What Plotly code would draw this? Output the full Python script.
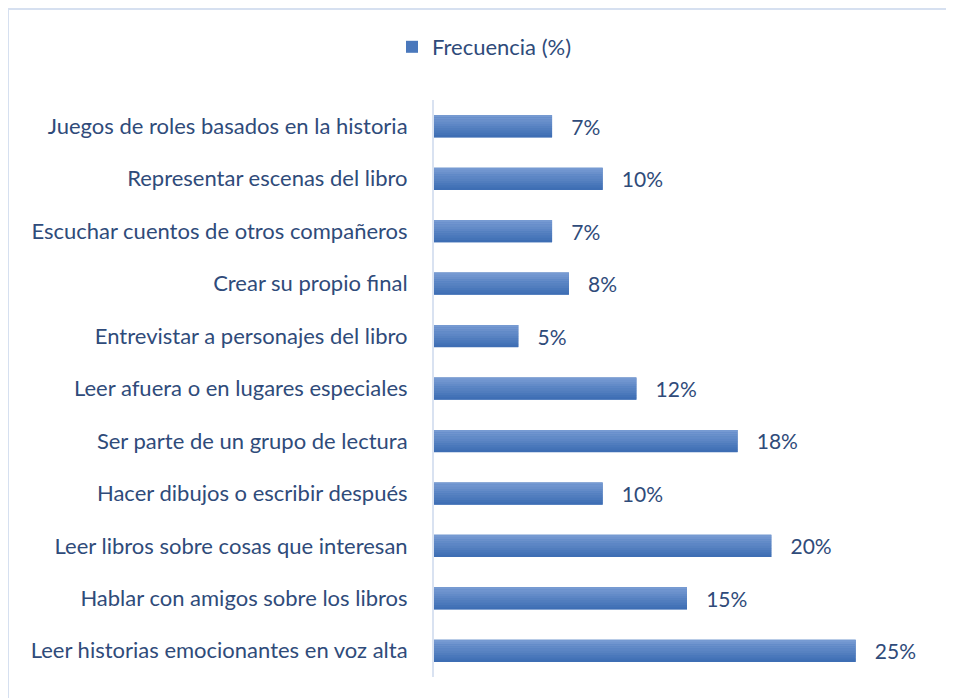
import plotly.graph_objects as go

categories = [
    "Juegos de roles basados en la historia",
    "Representar escenas del libro",
    "Escuchar cuentos de otros compañeros",
    "Crear su propio final",
    "Entrevistar a personajes del libro",
    "Leer afuera o en lugares especiales",
    "Ser parte de un grupo de lectura",
    "Hacer dibujos o escribir después",
    "Leer libros sobre cosas que interesan",
    "Hablar con amigos sobre los libros",
    "Leer historias emocionantes en voz alta",
]
values = [7, 10, 7, 8, 5, 12, 18, 10, 20, 15, 25]
series_name = "Frecuencia (%)"
labels = [f"\u00a0\u00a0\u00a0{v}%" for v in values]

FONT = "Lato"
TXT = "#2F4B7A"
BAR_W = 0.42
W, H = 938, 690

fig = go.Figure()
fig.add_trace(go.Bar(
    y=categories, x=values, orientation="h", name=series_name,
    marker=dict(color="#4A78BC", line=dict(width=0)),
    width=BAR_W, text=labels, textposition="outside", constraintext="none",
    textfont=dict(family=FONT, size=21, color=TXT),
    cliponaxis=False, showlegend=True,
))

n = 10
top = (118, 154, 210)
bot = (62, 110, 180)
for i in range(n):
    t = i / (n - 1)
    c = tuple(round(top[k] + (bot[k] - top[k]) * t) for k in range(3))
    fig.add_trace(go.Bar(
        y=categories, x=values, orientation="h",
        marker=dict(color=f"rgb{c}", line=dict(width=0)),
        width=BAR_W / n + 0.004, offset=-BAR_W / 2 + i * BAR_W / n,
        showlegend=False, hoverinfo="skip",
    ))

bx0 = -426 / 506
by1 = 1 + 91 / 577
fig.update_layout(
    width=W, height=H,
    barmode="overlay",
    paper_bgcolor="white", plot_bgcolor="white",
    margin=dict(l=426, r=6, t=92, b=21),
    font=dict(family=FONT, size=22, color=TXT),
    legend=dict(orientation="h", x=384 / W, xref="container", xanchor="left",
                y=1 - 39 / H, yref="container", yanchor="middle",
                font=dict(family=FONT, size=22, color=TXT)),
    xaxis=dict(range=[0, 30], showgrid=False, zeroline=False,
               showticklabels=False, showline=False),
    yaxis=dict(autorange="reversed", showgrid=False, zeroline=False,
               showline=True, linecolor="#D9E2F1", linewidth=2,
               ticks="", ticklabelstandoff=20,
               tickfont=dict(family=FONT, size=22, color=TXT)),
    shapes=[
        dict(type="line", xref="paper", yref="paper",
             x0=bx0, x1=1.2, y0=by1, y1=by1,
             line=dict(color="#D6E0F0", width=2), layer="below"),
        dict(type="line", xref="paper", yref="paper",
             x0=bx0, x1=bx0, y0=-0.2, y1=by1,
             line=dict(color="#D6E0F0", width=2), layer="below"),
    ],
)

fig.write_html("out.html")
